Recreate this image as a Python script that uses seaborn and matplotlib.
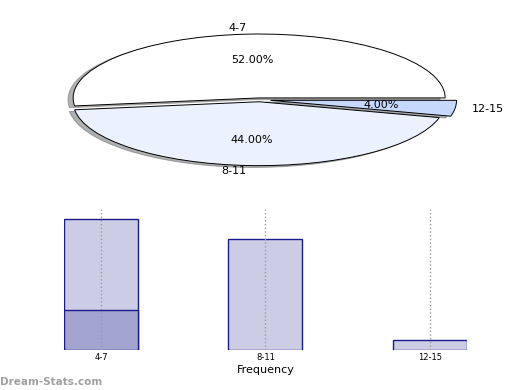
import seaborn as sns
import matplotlib.pyplot as plt

categories = ["4-7", "8-11", "12-15"]
counts = [13, 11, 1]
highlight = [4]
percent = [52.0, 44.0, 4.0]
pie_colors = ["#FFFFFF", "#EBF1FD", "#C6D8FC"]
explode = [0.03, 0.03, 0.06]

sns.set_style("white")
plt.rcParams['font.family'] = ['DejaVu Sans']
plt.rcParams['text.color'] = 'black'
plt.rcParams['xtick.color'] = 'black'
plt.rcParams['axes.labelcolor'] = 'black'

fig = plt.figure(figsize=(5.2, 3.9), dpi=100)

# pie on top, squashed into an ellipse
ax1 = fig.add_axes([0.034, 0.531, 0.93, 0.426])
wedges, texts, autotexts = ax1.pie(percent, labels=categories, colors=pie_colors, explode=explode,
                                   autopct='%.2f%%', pctdistance=0.6, labeldistance=1.09,
                                   startangle=0,
                                   shadow={'ox': -0.02, 'oy': -0.02, 'shade': 0.6},
                                   wedgeprops=dict(edgecolor='black', linewidth=0.7),
                                   textprops=dict(fontsize=8, color='black'))
ax1.set_aspect('auto')
ax1.set_xlim(-1.3, 1.3)
ax1.set_ylim(-1.3, 1.3)

# frequency bars below
ax2 = fig.add_axes([0.123, 0.1026, 0.775, 0.3615])
sns.barplot(x=categories, y=counts, order=categories, color="#CCCCE5", saturation=1,
            width=0.45, edgecolor="#1A1A8C", linewidth=1, ax=ax2)
sns.barplot(x=categories[:1], y=highlight, order=categories, color="#A2A3CF", saturation=1,
            width=0.45, edgecolor="#1A1A8C", linewidth=1, ax=ax2)
ax2.set_xlim(-0.225, 2.225)
ax2.set_ylim(0, 14)
ax2.set_yticks([])
ax2.xaxis.grid(True, linestyle=':', color='#999999', linewidth=1)
ax2.set_axisbelow(False)
sns.despine(ax=ax2, left=True, bottom=True)
ax2.tick_params(axis='x', labelsize=6, length=0, pad=2)
ax2.set_xlabel("Frequency", fontsize=8, labelpad=2)
ax2.set_ylabel("")

fig.text(0.0, 0.012, "Dream-Stats.com", color="#A0A0A0", fontsize=7.5, fontweight='bold')

plt.savefig('out.png', dpi=100)
plt.close()
